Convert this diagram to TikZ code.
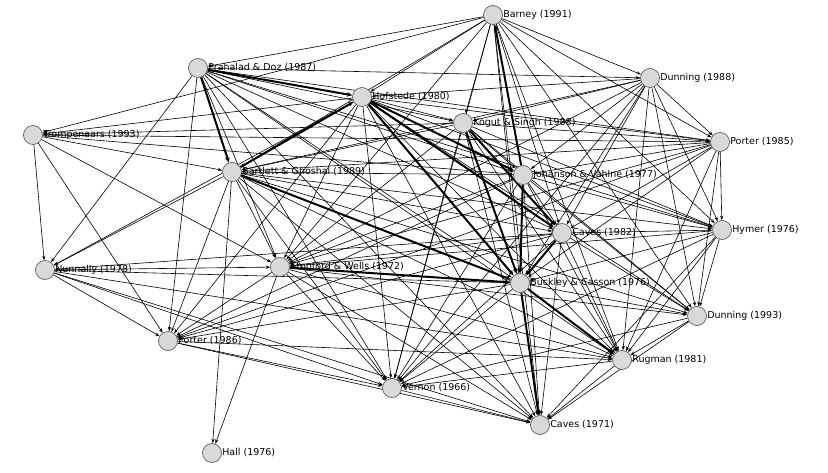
\documentclass[tikz,border=0pt]{standalone}
\usepackage{fontspec}
\setmainfont{DejaVu Sans}
\usetikzlibrary{arrows.meta}
\pgfdeclarelayer{edges}
\pgfsetlayers{edges,main}
\begin{document}
\begin{tikzpicture}[x=1pt,y=-1pt,
 nd/.style={circle,draw=black!70,fill=black!15,line width=0.6pt,minimum size=19pt,inner sep=0pt},
 lab/.style={font=\fontsize{9.5}{10}\selectfont},
 edge/.style={line width=0.6pt,-{Stealth[length=4.5pt,width=3.2pt]}},
 thk/.style={line width=2pt,-{Stealth[length=5.5pt,width=4.5pt]}}]
\useasboundingbox (0,0) rectangle (828,473);
\def\N#1#2#3#4{\node[nd,label={[lab,xshift=-3pt]right:#4}] (#1) at (#2,#3) {};}
\N{bar}{493}{15}{Barney (1991)}
\N{pra}{198}{68}{Prahalad \& Doz (1987)}
\N{d88}{650}{78}{Dunning (1988)}
\N{hof}{362}{97}{Hofstede (1980)}
\N{kog}{463}{123}{Kogut \& Singh (1988)}
\N{tro}{33}{135}{Trompenaars (1993)}
\N{p85}{720}{142}{Porter (1985)}
\N{bg}{232}{172}{Bartlett \& Ghoshal (1989)}
\N{jv}{523}{175}{Johanson \& Vahlne (1977)}
\N{c82}{562}{233}{Caves (1982)}
\N{hym}{722}{230}{Hymer (1976)}
\N{nun}{45}{270}{Nunnally (1978)}
\N{sw}{280}{267}{Stopford \& Wells (1972)}
\N{bc}{520}{283}{Buckley \& Casson (1976)}
\N{d93}{697}{316}{Dunning (1993)}
\N{p86}{168}{341}{Porter (1986)}
\N{rug}{622}{360}{Rugman (1981)}
\N{ver}{392}{388}{Vernon (1966)}
\N{c71}{540}{425}{Caves (1971)}
\N{hall}{212}{453}{Hall (1976)}
\begin{pgfonlayer}{edges}
\foreach \s/\ts in {
 bar/{pra,d88,hof,kog,p85,bg,c82,hym,sw,bc,d93,rug,ver,c71,tro},
 pra/{kog,d88,jv,p85,nun,p86,sw,bc,c82,ver,rug,c71,hym},
 d88/{hof,kog,jv,p85,c82,hym,bc,d93,rug,sw,bg,ver},
 hof/{kog,p85,tro,hym,sw,d93,rug,ver,c71,p86,nun},
 kog/{jv,p85,bg,hym,d93,rug,c71,sw,tro,ver},
 tro/{nun,bg,p85,jv,p86,sw},
 p85/{jv,bg,c82,hym,bc,d93,rug,sw,p86},
 bg/{jv,c82,hym,nun,sw,d93,p86,ver,rug,c71,hall},
 jv/{c82,hym,sw,d93,rug,c71,ver,p86},
 c82/{hym,sw,d93,rug,c71,ver,nun,p86},
 hym/{bc,d93,rug,sw,c71,ver},
 nun/{sw,p86,bc,ver,c71,rug},
 sw/{p86,ver,c71,rug,d93,hall},
 bc/{d93,ver,p86},
 d93/{rug,c71,ver},
 p86/{ver,c71,rug},
 rug/{c71,ver},
 ver/{c71}}
 {\foreach \t in \ts {\draw[edge] (\s) -- (\t);}}
\foreach \s/\t in {hof/jv,hof/bc,hof/c82,kog/bc,kog/c82,jv/bc,c82/bc,pra/hof,pra/bg,bg/bc,sw/bc,bc/rug,bc/c71,bg/hof,jv/bar}
 {\draw[thk] (\s) -- (\t);}
\end{pgfonlayer}
\end{tikzpicture}
\end{document}
